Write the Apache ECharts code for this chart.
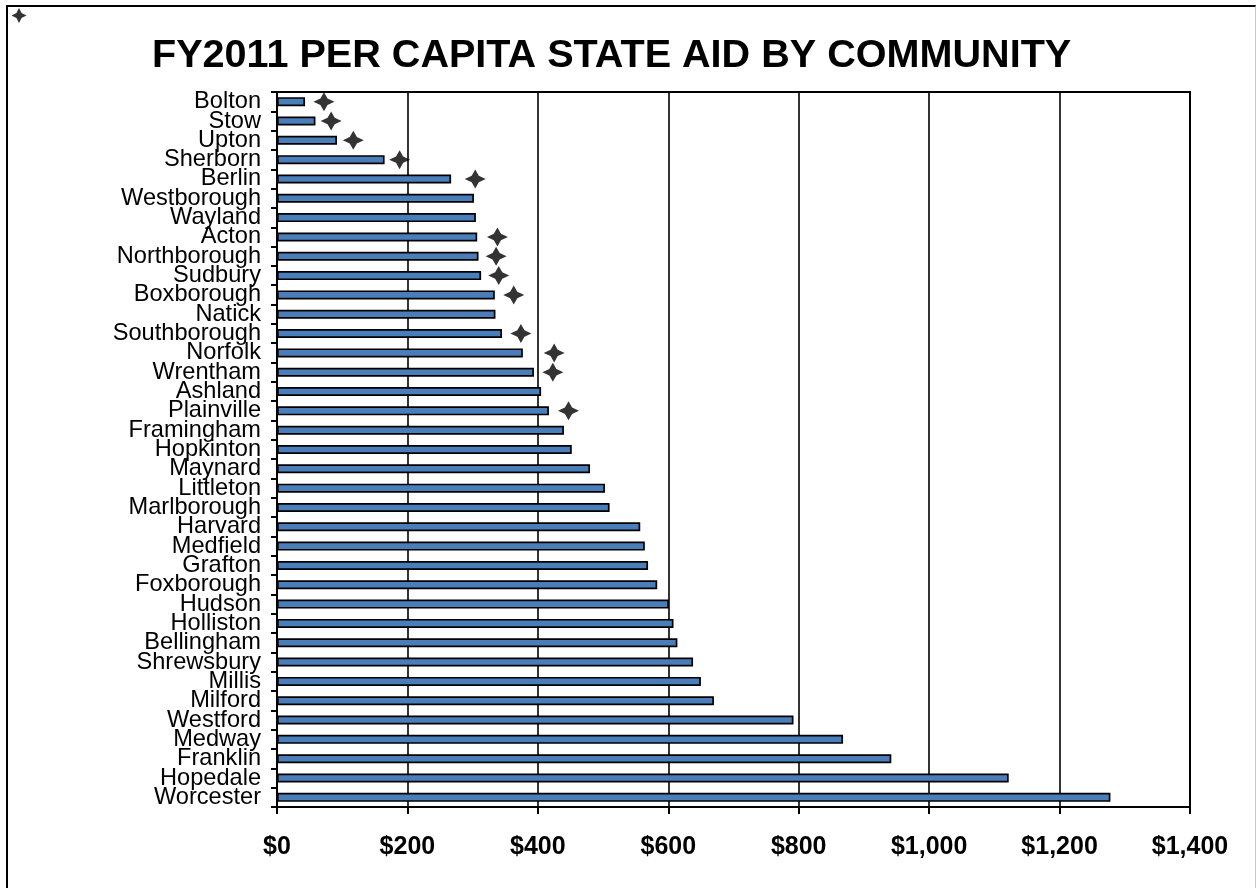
<!DOCTYPE html>
<html>
<head>
<meta charset="utf-8">
<script src="https://cdn.jsdelivr.net/npm/echarts@6/dist/echarts.min.js"></script>
<style>
html, body { margin: 0; padding: 0; background: #fff; }
#frame { position: absolute; left: 6px; top: 5px; width: 1250px; height: 900px; box-sizing: border-box;
  border-left: 2px solid #000; border-top: 2px solid #000; border-right: 1px solid #c8c8c8; }
#chart { position: absolute; left: 0; top: 0; width: 1257px; height: 888px; }
</style>
</head>
<body>
<div id="frame"></div>
<div id="chart"></div>
<script>
const towns = ['Bolton','Stow','Upton','Sherborn','Berlin','Westborough','Wayland','Acton','Northborough','Sudbury','Boxborough','Natick','Southborough','Norfolk','Wrentham','Ashland','Plainville','Framingham','Hopkinton','Maynard','Littleton','Marlborough','Harvard','Medfield','Grafton','Foxborough','Hudson','Holliston','Bellingham','Shrewsbury','Millis','Milford','Westford','Medway','Franklin','Hopedale','Worcester'];
const aidPerCapita = [43,59,92,165,267,302,305,307,309,313,334,335,345,377,394,405,417,440,452,480,503,510,557,564,569,583,601,608,614,638,650,670,792,868,942,1122,1278];
const starTowns = ['Bolton','Stow','Upton','Sherborn','Berlin','Acton','Northborough','Sudbury','Boxborough','Southborough','Norfolk','Wrentham','Plainville'];
const starValues = [72,83,117,188,304,338,336,340,363,374,425,423,447];
const xTicks = [0,200,400,600,800,1000,1200,1400];

const starPath = 'path://M0,-10 L3.4,-3.4 L10,0 L3.4,3.4 L0,10 L-3.4,3.4 L-10,0 L-3.4,-3.4 Z';
const font = "'Liberation Sans', Arial, sans-serif";

const chart = echarts.init(document.getElementById('chart'), null, { renderer: 'canvas' });
chart.setOption({
  animation: false,
  title: {
    text: 'FY2011 PER CAPITA STATE AID BY COMMUNITY',
    left: 147, top: 31,
    textStyle: { fontFamily: font, fontSize: 39.6, fontWeight: 'bold', color: '#000' }
  },
  legend: {
    left: 6, top: 3,
    data: [{ name: 'marker', icon: starPath }],
    itemWidth: 16, itemHeight: 15,
    formatter: function () { return ''; },
    itemStyle: { color: '#000' },
    selectedMode: false
  },
  grid: {
    left: 277, right: 67, top: 92, bottom: 81,
    show: true, borderColor: '#000', borderWidth: 2, backgroundColor: 'transparent'
  },
  xAxis: {
    type: 'value', min: xTicks[0], max: xTicks[xTicks.length - 1], interval: 200,
    axisLine: { show: true, lineStyle: { color: '#000', width: 2 } },
    axisTick: { show: true, length: 7, lineStyle: { color: '#000', width: 2 } },
    splitLine: { show: true, lineStyle: { color: '#000', width: 1.6 } },
    axisLabel: {
      margin: 28, fontFamily: font, fontSize: 25, fontWeight: 'bold', color: '#000',
      formatter: function (v) { return '$' + v.toLocaleString('en-US'); }
    }
  },
  yAxis: {
    type: 'category', data: towns, inverse: true,
    axisLine: { show: true, lineStyle: { color: '#000', width: 2 } },
    axisTick: { show: true, length: 6, lineStyle: { color: '#000', width: 2 } },
    splitLine: { show: false },
    axisLabel: { margin: 16, fontFamily: font, fontSize: 23.6, color: '#000', interval: 0, lineHeight: 20 }
  },
  series: [
    {
      type: 'bar', name: 'aid', data: aidPerCapita, barWidth: 9,
      itemStyle: { color: '#4a7ebb', borderColor: '#000', borderWidth: 1.7 },
      silent: true
    },
    {
      type: 'scatter', name: 'marker',
      data: starTowns.map(function (t, i) { return [starValues[i], t]; }),
      symbol: starPath, symbolSize: [21, 19],
      itemStyle: { color: '#000' },
      z: 5, silent: true
    }
  ]
});
</script>
</body>
</html>
